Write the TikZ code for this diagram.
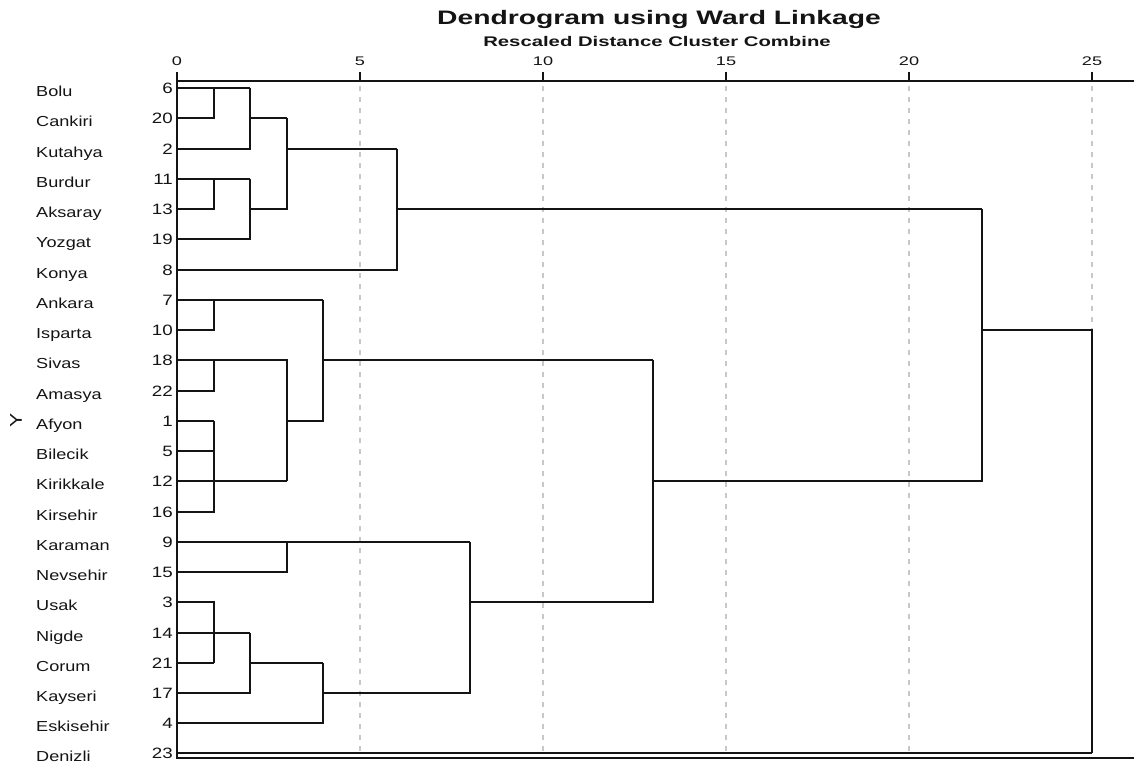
\documentclass[tikz,border=0pt]{standalone}
\usepackage{fontspec}
\setmainfont{Liberation Sans}
\newfontfamily\rowfont{Liberation Sans}[FakeStretch=1.25]
\newfontfamily\headfont{Liberation Sans}[FakeStretch=1.45]
\definecolor{ink}{HTML}{141414}
\definecolor{gridgray}{HTML}{C8C8C8}

\begin{document}
\begin{tikzpicture}[
    x=1pt, y=-1pt,
    every node/.style={text=ink, inner sep=0pt},
    city/.style={anchor=base west, font=\rowfont\fontsize{14.5}{16}\selectfont},
    case/.style={anchor=east, inner xsep=4pt, font=\rowfont\fontsize{15}{17}\selectfont},
    ticklabel/.style={anchor=base, font=\headfont\fontsize{12.5}{14}\selectfont},
    link/.style={draw=ink, line width=2pt},
    axisline/.style={draw=ink, line width=2pt},
    gridline/.style={draw=gridgray, line width=2pt, dash pattern=on 5pt off 6pt},
]
\useasboundingbox (0,0) rectangle (1134,763);

% Titles
\node[font=\headfont\bfseries\fontsize{19.5}{22}\selectfont, anchor=base] (title) at (659,24) {Dendrogram using Ward Linkage};
\node[font=\headfont\bfseries\fontsize{14}{16}\selectfont, anchor=base] (subtitle) at (657,46.5) {Rescaled Distance Cluster Combine};

% Axis labels
\node[ticklabel] (t0) at (177,65) {0};
\node[ticklabel] (t5) at (360,65) {5};
\node[ticklabel] (t10) at (543,65) {10};
\node[ticklabel] (t15) at (726,65) {15};
\node[ticklabel] (t20) at (909,65) {20};
\node[ticklabel] (t25) at (1092,65) {25};
\node[rotate=90, font=\rowfont\fontsize{17}{19}\selectfont] (ylab) at (16,420) {Y};

\coordinate (tk) at (0,72);
\coordinate (axtop) at (177,81);
\coordinate (axend) at (1134,81);
\coordinate (gtop) at (0,86);
\coordinate (axbot) at (177,758);
\coordinate (corner) at (1134,758);

% Grid
\draw[gridline] (t5 |- gtop) -- (t5 |- axbot);
\draw[gridline] (t10 |- gtop) -- (t10 |- axbot);
\draw[gridline] (t15 |- gtop) -- (t15 |- axbot);
\draw[gridline] (t20 |- gtop) -- (t20 |- axbot);
\draw[gridline] (t25 |- gtop) -- (t25 |- axbot);

% Frame and ticks
\draw[axisline] (axtop) -- (axend);
\draw[axisline] (t0 |- tk) -- (axbot) -- (corner);
\draw[axisline] (t5 |- tk) -- (t5 |- axtop);
\draw[axisline] (t10 |- tk) -- (t10 |- axtop);
\draw[axisline] (t15 |- tk) -- (t15 |- axtop);
\draw[axisline] (t20 |- tk) -- (t20 |- axtop);
\draw[axisline] (t25 |- tk) -- (t25 |- axtop);

% Leaves
\node[city] (bolu) at (36,96.5) {Bolu};          \node[case] (n6) at (177,88) {6};
\node[city] (cankiri) at (36,126.5) {Cankiri};   \node[case] (n20) at (177,118) {20};
\node[city] (kutahya) at (36,157.5) {Kutahya};   \node[case] (n2) at (177,149) {2};
\node[city] (burdur) at (36,187.5) {Burdur};     \node[case] (n11) at (177,179) {11};
\node[city] (aksaray) at (36,217.5) {Aksaray};   \node[case] (n13) at (177,209) {13};
\node[city] (yozgat) at (36,247.5) {Yozgat};     \node[case] (n19) at (177,239) {19};
\node[city] (konya) at (36,278.5) {Konya};       \node[case] (n8) at (177,270) {8};
\node[city] (ankara) at (36,308.5) {Ankara};     \node[case] (n7) at (177,300) {7};
\node[city] (isparta) at (36,338.5) {Isparta};   \node[case] (n10) at (177,330) {10};
\node[city] (sivas) at (36,368.5) {Sivas};       \node[case] (n18) at (177,360) {18};
\node[city] (amasya) at (36,399.5) {Amasya};     \node[case] (n22) at (177,391) {22};
\node[city] (afyon) at (36,429.5) {Afyon};       \node[case] (n1) at (177,421) {1};
\node[city] (bilecik) at (36,459.5) {Bilecik};   \node[case] (n5) at (177,451) {5};
\node[city] (kirikkale) at (36,489.5) {Kirikkale}; \node[case] (n12) at (177,481) {12};
\node[city] (kirsehir) at (36,520.5) {Kirsehir}; \node[case] (n16) at (177,512) {16};
\node[city] (karaman) at (36,550.5) {Karaman};   \node[case] (n9) at (177,542) {9};
\node[city] (nevsehir) at (36,580.5) {Nevsehir}; \node[case] (n15) at (177,572) {15};
\node[city] (usak) at (36,610.5) {Usak};         \node[case] (n3) at (177,602) {3};
\node[city] (nigde) at (36,641.5) {Nigde};       \node[case] (n14) at (177,633) {14};
\node[city] (corum) at (36,671.5) {Corum};       \node[case] (n21) at (177,663) {21};
\node[city] (kayseri) at (36,701.5) {Kayseri};   \node[case] (n17) at (177,693) {17};
\node[city] (eskisehir) at (36,731.5) {Eskisehir}; \node[case] (n4) at (177,723) {4};
\node[city] (denizli) at (36,761) {Denizli};     \node[case] (n23) at (177,753) {23};

% Merge distances
\coordinate (d1) at (214,0);
\coordinate (d2) at (250,0);
\coordinate (d3) at (287,0);
\coordinate (d4) at (323,0);
\coordinate (d6) at (397,0);
\coordinate (d8) at (470,0);
\coordinate (d13) at (653,0);
\coordinate (d22) at (982,0);

% First cluster
\draw[link] (n6.east) -- (n6 -| d2);
\draw[link] (n20.east) -| (n6 -| d1);
\draw[link] (n2.east) -| (n6 -| d2);
\draw[link] (n20 -| d2) -- (n20 -| d3);
\draw[link] (n11.east) -- (n11 -| d2);
\draw[link] (n13.east) -| (n11 -| d1);
\draw[link] (n19.east) -| (n11 -| d2);
\draw[link] (n13 -| d2) -| (n20 -| d3);
\draw[link] (n2 -| d3) -- (n2 -| d6);
\draw[link] (n8.east) -| (n2 -| d6);
\draw[link] (n13 -| d6) -- (n13 -| d22);

% Second cluster
\draw[link] (n7.east) -- (n7 -| d4);
\draw[link] (n10.east) -| (n7 -| d1);
\draw[link] (n18.east) -| (n12 -| d3);
\draw[link] (n22.east) -| (n18 -| d1);
\draw[link] (n1.east) -- (n1 -| d1);
\draw[link] (n5.east) -- (n5 -| d1);
\draw[link] (n12.east) -- (n12 -| d3);
\draw[link] (n16.east) -| (n1 -| d1);
\draw[link] (n1 -| d3) -| (n7 -| d4);
\draw[link] (n18 -| d4) -- (n18 -| d13);

% Third cluster
\draw[link] (n9.east) -- (n9 -| d8);
\draw[link] (n15.east) -| (n9 -| d3);
\draw[link] (n3.east) -| (n21 -| d1);
\draw[link] (n21.east) -- (n21 -| d1);
\draw[link] (n14.east) -- (n14 -| d2);
\draw[link] (n17.east) -| (n14 -| d2);
\draw[link] (n21 -| d2) -- (n21 -| d4);
\draw[link] (n4.east) -| (n21 -| d4);
\draw[link] (n17 -| d4) -| (n9 -| d8);
\draw[link] (n3 -| d8) -| (n18 -| d13);

% Top merges
\draw[link] (n12 -| d13) -| (n13 -| d22);
\draw[link] (n10 -| d22) -| (n23 -| t25);
\draw[link] (n23.east) -- (n23 -| t25);

\end{tikzpicture}
\end{document}
